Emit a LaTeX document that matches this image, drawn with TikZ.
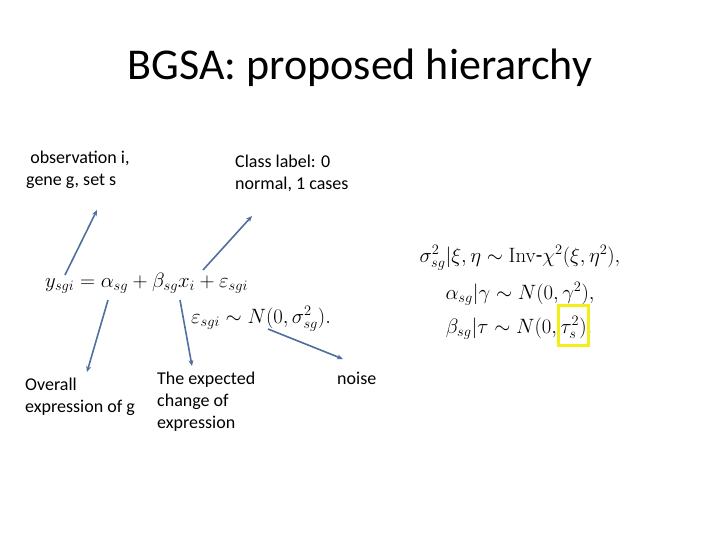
\documentclass[tikz,border=0pt]{standalone}
\usepackage{amsmath}
\usepackage[no-math]{fontspec}
\setmainfont{Carlito}
\usetikzlibrary{arrows.meta}
\definecolor{arrowblue}{RGB}{79,111,158}
\definecolor{boxyellow}{RGB}{242,238,24}
\tikzstyle{pointer} = [draw=arrowblue,line width=1.6pt,-{Stealth[length=6pt,width=5pt]}]
\tikzset{
  title/.style = {inner sep=0pt, font=\fontsize{44}{50}\selectfont},
  note/.style = {align=left, anchor=north west, inner sep=0pt,
    font=\fontsize{18}{22}\selectfont},% texts round the formula
  eqn/.style = {anchor=base west, inner sep=0pt, font=\fontsize{22}{24}\selectfont},
  prior/.style = {anchor=base, inner sep=0pt, font=\fontsize{21.5}{26}\selectfont},
  hilite/.style = {draw=boxyellow, line width=3.5pt, minimum width=30pt, minimum height=40pt, inner sep=0pt},% box round tau
}
\begin{document}
\begin{tikzpicture}[x=1pt,y=-1pt]
                    \path[use as bounding box] (0,0) rectangle (720,540);

                    \node[title] (head) at (360,68) {BGSA: proposed hierarchy};

                    \node[note] (obs) at (26,151) {~observation i,\\gene g, set s};
                    \node[note] (cls) at (235,155) {Class label: 0\\normal, 1 cases};
                    \node[note] (all) at (25,378) {Overall\\expression of g};
                    \node[note] (chg) at (157,372) {The expected\\change of\\expression};
                    \node[note] (noi) at (337,372) {noise};

                    \node[eqn] (model) at (45,287) {$y_{sgi}=\alpha_{sg}+\beta_{sg}x_i+\varepsilon_{sgi}$};
                    \node[eqn] (err) at (191,323) {$\varepsilon_{sgi}\sim N(0,\sigma^2_{sg}).$};

                    \node[prior] (p1) at (520,262) {$\sigma^2_{sg}|\xi,\eta\sim\mathrm{Inv}\text{-}\chi^2(\xi,\eta^2),$};
                    \node[prior] (p2) at (520,299) {$\alpha_{sg}|\gamma\sim N(0,\gamma^2),$};
                    \node[prior] (p3) at (519,333) {$\beta_{sg}|\tau\sim N(0,\tau^2_s).$};
                    \node[hilite] (tau) at (573.5,325.5) {};

                    \coordinate (y0) at (65,275);
                    \coordinate (y1) at (97,210);
                    \coordinate (x0) at (203,270);
                    \coordinate (x1) at (252,216);
                    \coordinate (a0) at (108,300);
                    \coordinate (a1) at (87,372);
                    \coordinate (b0) at (180,300);
                    \coordinate (b1) at (192,366);
                    \coordinate (s0) at (268,329);
                    \coordinate (s1) at (343,359);

                    \path[pointer] (y0) -- (y1);
                    \path[pointer] (x0) -- (x1);
                    \path[pointer] (a0) -- (a1);
                    \path[pointer] (b0) -- (b1);
                    \path[pointer] (s0) -- (s1);
\end{tikzpicture}
\end{document}
